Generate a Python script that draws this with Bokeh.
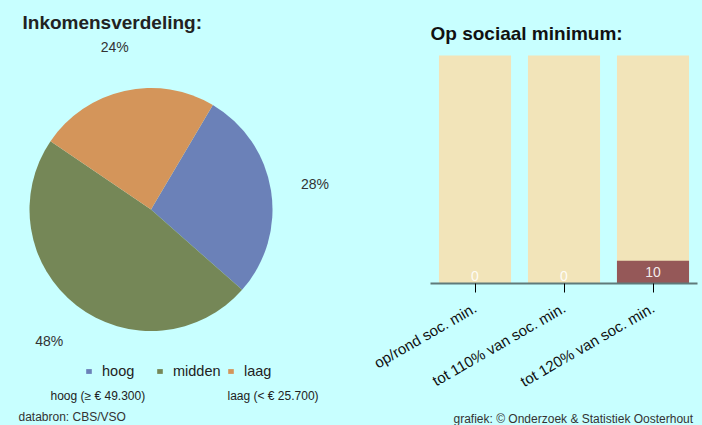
import numpy as np
from bokeh.plotting import figure
from bokeh.models import Range1d, FactorRange, Label, Legend, LegendItem, ColumnDataSource, Title
from bokeh.layouts import row
from bokeh.core.properties import value
from bokeh.embed import file_html
from bokeh.resources import INLINE

# ---- data ----
inkomen_cats = ["hoog", "midden", "laag"]
inkomen_pct = [28, 48, 24]
inkomen_colors = ["#6b81b8", "#758757", "#d4955a"]

minimum_cats = ["op/rond soc. min.", "tot 110% van soc. min.", "tot 120% van soc. min."]
minimum_vals = [0, 0, 10]
minimum_max = [100, 100, 100]

BG = "#c8ffff"
FONT = "Liberation Sans"

# ---- left: pie ----
LW, H = 348, 425
left = figure(frame_width=LW, frame_height=H, x_range=Range1d(0, LW), y_range=Range1d(0, H),
              output_backend="svg", toolbar_location=None, min_border=0, title=None,
              x_axis_location=None, y_axis_location=None,
              background_fill_color=BG, border_fill_color=BG, outline_line_color=None)
left.grid.visible = False

cx, cy, r = 150.5, H - 209, 121.5
pct = np.array(inkomen_pct, dtype=float)
cum = np.concatenate([[0], np.cumsum(pct)[:-1]])
start_deg = 59.4
starts = np.radians(start_deg - cum * 3.6)
ends = np.radians(start_deg - (cum + pct) * 3.6)
mids = (starts + ends) / 2
pie_src = ColumnDataSource(dict(cat=inkomen_cats, start=starts, end=ends, color=inkomen_colors,
                                lx=cx + 166 * np.cos(mids), ly=cy + 166 * np.sin(mids),
                                lab=[f"{int(v)}%" for v in pct]))
wr = left.wedge(x=cx, y=cy, radius=r, start_angle="start", end_angle="end", direction="clock",
                fill_color="color", line_color=None, source=pie_src)
left.text(x="lx", y="ly", text="lab", source=pie_src, text_align="center", text_baseline="middle",
          text_font=value(FONT), text_font_size="14px", text_color="#333333")

left.add_layout(Label(x=22, y=H - 32, text="Inkomensverdeling:", text_font=FONT,
                      text_font_size="19px", text_font_style="bold", text_color="#222222"))

legend = Legend(items=[LegendItem(label=c, renderers=[wr], index=i) for i, c in enumerate(inkomen_cats)],
                orientation="horizontal", location=(85, H - 380), background_fill_alpha=0,
                border_line_color=None, glyph_width=7, glyph_height=6, label_standoff=10,
                label_width=51, spacing=3, padding=0, margin=0, label_text_font_size="14.5px",
                label_text_font=FONT, label_height=18, label_text_color="#222222")
left.add_layout(legend)

left.add_layout(Label(x=50, y=H - 402, text="hoog (\u2265 \u20ac 49.300)", text_font=FONT,
                      text_font_size="12px", text_color="#222222"))
left.add_layout(Label(x=227, y=H - 402, text="laag (< \u20ac 25.700)", text_font=FONT,
                      text_font_size="12px", text_color="#222222"))
left.add_layout(Label(x=18, y=H - 423, text="databron: CBS/VSO", text_font=FONT,
                      text_font_size="12px", text_color="#333333"))

# ---- right: bars ----
RW = 702 - LW
AXIS_Y = 283      # pixel row of the bar baseline
BAR_TOP = 55      # pixel row of a full (100) bar
ymax = 100 * AXIS_Y / (AXIS_Y - BAR_TOP)
right = figure(frame_width=267, frame_height=AXIS_Y, x_range=FactorRange(*minimum_cats),
               y_range=Range1d(0, ymax), title=None,
               output_backend="svg", toolbar_location=None,
               min_border_left=82, min_border_right=RW - 82 - 267, min_border_top=0,
               min_border_bottom=H - AXIS_Y,
               background_fill_color=BG, border_fill_color=BG, outline_line_color=None)
right.grid.visible = False
right.yaxis.visible = False

bar_src = ColumnDataSource(dict(cat=minimum_cats, val=minimum_vals, mx=minimum_max,
                                lab=[str(v) for v in minimum_vals],
                                ly=np.maximum(np.array(minimum_vals) / 2, 3.5)))
right.vbar(x="cat", top="mx", width=0.81, fill_color="#f2e4b9", line_color=None, source=bar_src)
right.vbar(x="cat", top="val", width=0.81, fill_color="#955858", line_color=None, source=bar_src)
right.text(x="cat", y="ly", text="lab", source=bar_src, text_align="center", text_baseline="middle",
           text_font=value(FONT), text_font_size="14px", text_color="white", text_alpha=0.9)

right.add_layout(Label(x=0, y=(AXIS_Y - 43) * 100 / (AXIS_Y - BAR_TOP), text="Op sociaal minimum:",
                       text_font=FONT, text_font_size="19px", text_font_style="bold",
                       text_color="#111111"))

xa = right.xaxis[0]
xa.axis_line_color = "#5f7a7a"
xa.axis_line_width = 2
xa.major_tick_in = 0
xa.major_tick_out = 9
xa.major_tick_line_color = "black"
xa.minor_tick_line_color = None
xa.major_label_orientation = np.pi / 6
xa.major_label_text_font = FONT
xa.major_label_text_font_size = "15px"
xa.major_label_text_color = "#111111"
xa.major_label_standoff = 14

foot = Title(text="grafiek: \u00a9 Onderzoek & Statistiek Oosterhout", text_font=FONT,
             text_font_size="12px", text_font_style="normal", text_color="#333333",
             align="left", offset=453 - 430, standoff=19)
right.add_layout(foot, "below")

p = row(left, right, styles={"background-color": BG})
open("out.html", "w").write(file_html(p, INLINE))
